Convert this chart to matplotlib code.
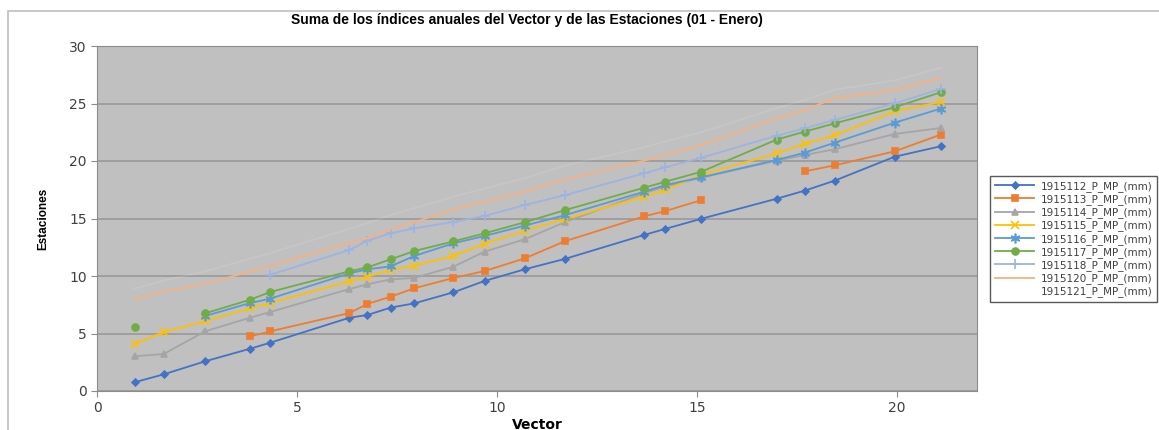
import numpy as np
import matplotlib
matplotlib.use("Agg")
import matplotlib.pyplot as plt
from matplotlib.patches import Rectangle

nan = np.nan

vector = [0.94, 1.67, 2.70, 3.83, 4.33, 6.31, 6.76, 7.34, 7.93, 8.91, 9.69,
          10.69, 11.71, 13.68, 14.21, 15.11, 16.99, 17.69, 18.44, 19.94, 21.09]

s1915112 = [0.76, 1.45, 2.58, 3.68, 4.2, 6.37, 6.61, 7.25, 7.62, 8.58, 9.57,
            10.58, 11.5, 13.57, 14.1, 14.98, 16.72, 17.42, 18.29, 20.37, 21.28]
s1915113 = [nan, nan, nan, 4.75, 5.19, 6.78, 7.57, 8.2, 8.93, 9.83, 10.43,
            11.53, 13.04, 15.19, 15.65, 16.6, nan, 19.1, 19.62, 20.84, 22.29]
s1915114 = [3.02, 3.22, 5.19, 6.38, 6.87, 8.87, 9.28, 9.71, 9.83, 10.81, 12.12,
            13.19, 14.7, 17.2, 17.77, 18.55, 20.03, 20.52, 21.02, 22.35, 22.87]
s1915115 = [4.09, 5.13, 6.06, 7.19, 7.65, 9.54, 9.94, 10.52, 10.9, 11.74, 12.81,
            13.94, 14.98, 16.9, 17.48, 18.8, 20.67, 21.48, 22.23, 24.32, 25.13]
s1915116 = [nan, nan, 6.52, 7.65, 8.03, 10.23, 10.58, 10.84, 11.74, 12.84, 13.48,
            14.38, 15.3, 17.33, 17.91, 18.58, 20.09, 20.72, 21.59, 23.33, 24.55]
s1915117 = [5.57, nan, 6.75, 7.94, 8.61, 10.41, 10.75, 11.45, 12.17, 13.01, 13.71,
            14.67, 15.74, 17.68, 18.2, 19.07, 21.86, 22.55, 23.27, 24.67, 25.97]
s1915118 = [nan, nan, nan, nan, 10.11, 12.26, 13.07, 13.71, 14.14, 14.7, 15.22,
            16.17, 17.04, 18.93, 19.45, 20.29, 22.2, 22.84, 23.57, 25.01, 26.26]
s1915120 = [7.97, 8.64, 9.33, 10.38, 10.9, 12.9, 13.28, 14.06, 14.67, 15.8, 16.46,
            17.33, 18.41, 20.03, 20.52, 21.39, 23.71, 24.43, 25.45, 26.17, 27.22]
s1915121 = [8.9, 9.6, 10.4, 11.5, 12.0, 14.1, 14.6, 15.3, 15.9, 16.9, 17.6,
            18.5, 19.6, 21.2, 21.7, 22.5, 24.6, 25.3, 26.2, 27.0, 28.1]

labels = ["1915112_P_MP_(mm)", "1915113_P_MP_(mm)", "1915114_P_MP_(mm)",
          "1915115_P_MP_(mm)", "1915116_P_MP_(mm)", "1915117_P_MP_(mm)",
          "1915118_P_MP_(mm)", "1915120_P_MP_(mm)", "1915121_P_MP_(mm)"]

# color, marker, marker size, alpha
styles = [
    ("#4472C4", "D", 3.5, 1),
    ("#ED7D31", "s", 5, 1),
    ("#A5A5A5", "^", 5, 1),
    ("#FFC000", "x", 6, 1),
    ("#5B9BD5", (6, 2, 0), 7, 1),
    ("#70AD47", "o", 5, 1),
    ("#9DB3E2", "+", 7, 1),
    ("#F4B183", None, 0, 1),
    ("white", None, 0, 0.1),
]
series = [s1915112, s1915113, s1915114, s1915115, s1915116,
          s1915117, s1915118, s1915120, s1915121]

fig = plt.figure(figsize=(11.59, 4.30), dpi=100)
fig.patch.set_facecolor("white")

# chart area border
fig.patches.append(Rectangle((8 / 1159, -0.02), 1.1, 1 - 11 / 430 + 0.02,
                             transform=fig.transFigure, fill=False,
                             edgecolor="#bfbfbf", linewidth=1.2))

ax = fig.add_axes([97 / 1159, 1 - 391 / 430, 880 / 1159, 345 / 430])
ax.set_facecolor("#C0C0C0")

for vals, lab, (col, mk, ms, a) in zip(series, labels, styles):
    ax.plot(vector, vals, color=col, marker=mk, markersize=ms, alpha=a,
            markeredgewidth=1.2, linewidth=1.3, label=lab, zorder=3)

ax.set_xlim(0, 22)
ax.set_ylim(0, 30)
ax.set_xticks([0, 5, 10, 15, 20])
ax.set_yticks(range(0, 31, 5))
ax.grid(axis="y", color="#9c9c9c", linewidth=1.3, zorder=1)
ax.set_axisbelow(True)
for sp in ax.spines.values():
    sp.set_color("#8c8c8c")
ax.tick_params(direction="out", length=4, color="#8c8c8c",
               labelsize=10, labelcolor="#404040")

ax.set_xlabel("Vector", fontsize=10, fontweight="bold", labelpad=2)
ax.set_ylabel("Estaciones", fontsize=8.5, fontweight="bold",
              family="Liberation Sans", labelpad=14)

fig.text(0.455, 0.953, "Suma de los índices anuales del Vector y de las Estaciones (01 - Enero)",
         ha="center", va="center", fontsize=10, fontweight="bold",
         family="Liberation Sans")

leg = fig.legend(loc="upper left", bbox_to_anchor=(985 / 1159, 1 - 171 / 430),
                 fontsize=7.5, frameon=True, fancybox=False,
                 edgecolor="#595959", facecolor="white", framealpha=1,
                 handlelength=3.8, labelspacing=0.22, borderpad=0.45,
                 handletextpad=0.6)
for t in leg.get_texts():
    t.set_color("#404040")
leg.get_frame().set_linewidth(1.0)

fig.savefig("out.png", dpi=100)
